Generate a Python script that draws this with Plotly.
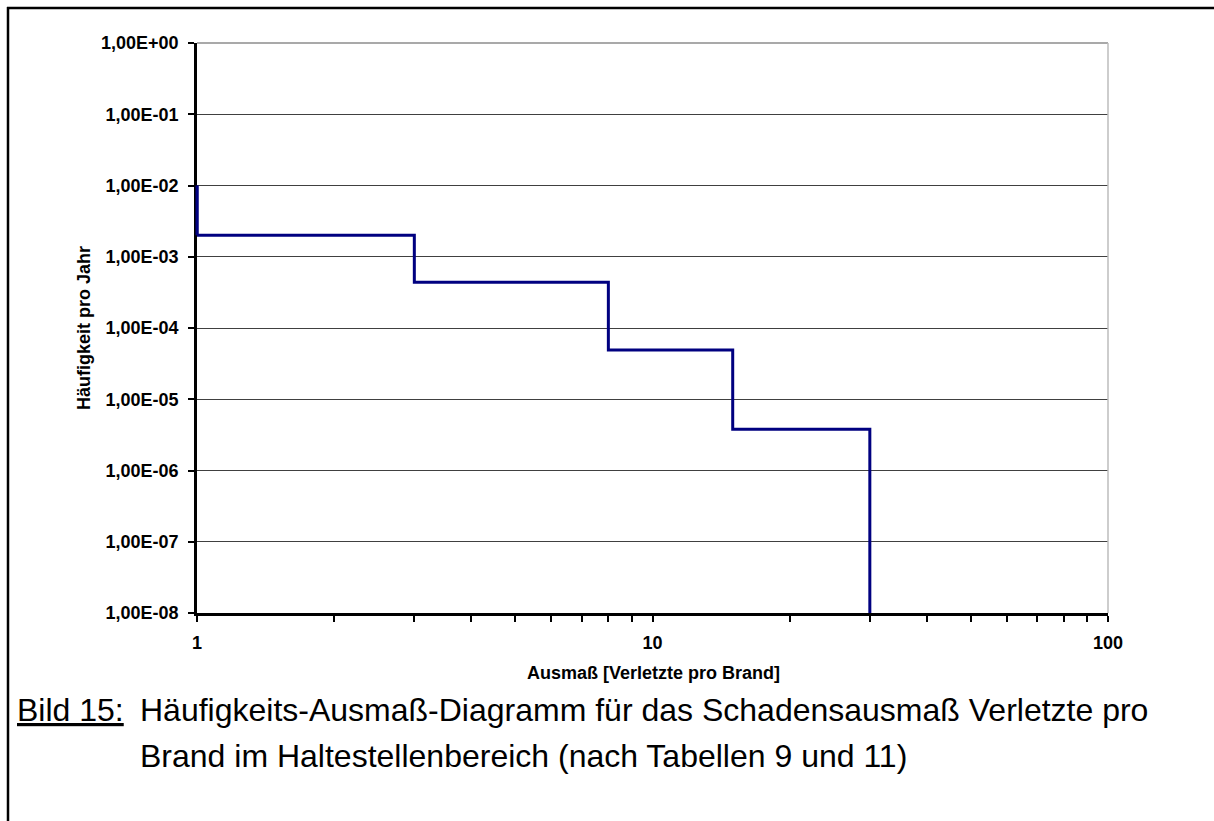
import math
import plotly.graph_objects as go

# Data
damage_x = [1, 1, 3, 8, 15, 30]                    # Ausmaß [Verletzte pro Brand]
freq_y = [1e-2, 2e-3, 4.4e-4, 4.9e-5, 3.8e-6, 1e-8]  # Häufigkeit pro Jahr

y_tickvals = [1e0, 1e-1, 1e-2, 1e-3, 1e-4, 1e-5, 1e-6, 1e-7, 1e-8]
y_ticktext = ["1,00E+00", "1,00E-01", "1,00E-02", "1,00E-03", "1,00E-04",
              "1,00E-05", "1,00E-06", "1,00E-07", "1,00E-08"]
x_tickvals = [1, 2, 3, 4, 5, 6, 7, 8, 9, 10, 20, 30, 40, 50, 60, 70, 80, 90, 100]
x_ticktext = ["1", "", "", "", "", "", "", "", "", "10",
              "", "", "", "", "", "", "", "", "100"]

W, H = 1214, 821
L, R, T, B = 197, 106, 43, 208
PW, PH = W - L - R, H - T - B
Y_RANGE = [-8, 0]
X_RANGE = [0, 2]

def xp(px):
    return (px - L) / PW

def yp(py):
    return (H - B - py) / PH

def y_data_to_paper(v):
    return (math.log10(v) - Y_RANGE[0]) / (Y_RANGE[1] - Y_RANGE[0])

def x_data_to_paper(v):
    return (math.log10(v) - X_RANGE[0]) / (X_RANGE[1] - X_RANGE[0])

FONT = "Liberation Sans, Arial, sans-serif"
NAVY = "#000080"

fig = go.Figure()
fig.add_trace(go.Scatter(
    x=damage_x, y=freq_y, mode="lines", line=dict(color=NAVY, width=3, shape="hv"),
    showlegend=False, hoverinfo="skip"))

fig.update_layout(
    width=W, height=H,
    margin=dict(l=L, r=R, t=T, b=B, pad=0),
    paper_bgcolor="white", plot_bgcolor="white",
    font=dict(family=FONT, color="black"),
    xaxis=dict(type="log", range=X_RANGE, tickvals=x_tickvals, ticktext=x_ticktext,
               showgrid=False, zeroline=False, showline=True, linecolor="black", linewidth=2.5,
               ticks="outside", ticklen=6, tickwidth=2, tickcolor="black",
               ticklabelstandoff=6,
               tickfont=dict(family=FONT, size=18, weight="bold", color="black"),
               layer="below traces"),
    yaxis=dict(type="log", range=Y_RANGE, tickvals=y_tickvals, ticktext=y_ticktext,
               showgrid=True, gridcolor="#404040", gridwidth=1, zeroline=False,
               showline=True, linecolor="black", linewidth=2.5,
               ticks="outside", ticklen=6, tickwidth=2, tickcolor="black",
               ticklabelstandoff=6,
               tickfont=dict(family=FONT, size=18, weight="bold", color="black"),
               layer="below traces"),
)

shapes = [
    # plot-area top and right borders
    dict(type="line", xref="paper", yref="paper", x0=0, x1=1, y0=1, y1=1,
         line=dict(color="#8c8c8c", width=1.5), layer="above"),
    dict(type="line", xref="paper", yref="paper", x0=1, x1=1, y0=0, y1=1,
         line=dict(color="#bdbdbd", width=1.5), layer="above"),
    # first vertical step segment lying on the y axis (drawn unclipped)
    dict(type="line", xref="paper", yref="paper",
         x0=x_data_to_paper(damage_x[0]), x1=x_data_to_paper(damage_x[1]),
         y0=y_data_to_paper(freq_y[0]), y1=y_data_to_paper(freq_y[1]),
         line=dict(color=NAVY, width=3), layer="above"),
    # page frame (top and left)
    dict(type="line", xref="paper", yref="paper", x0=xp(7), x1=xp(1230), y0=yp(8), y1=yp(8),
         line=dict(color="black", width=2.5)),
    dict(type="line", xref="paper", yref="paper", x0=xp(8), x1=xp(8), y0=yp(7), y1=yp(840),
         line=dict(color="black", width=2.5)),
]
fig.update_layout(shapes=shapes)

ann = [
    dict(text="Häufigkeit pro Jahr", x=xp(84), y=yp(328), textangle=-90,
         font=dict(family=FONT, size=18, weight="bold")),
    dict(text="Ausmaß [Verletzte pro Brand]", x=xp(653), y=yp(673),
         font=dict(family=FONT, size=18, weight="bold")),
    dict(text="<u>Bild 15:</u>", x=xp(15), y=yp(710), xanchor="left",
         font=dict(family=FONT, size=32)),
    dict(text="Häufigkeits-Ausmaß-Diagramm für das Schadensausmaß Verletzte pro",
         x=xp(138), y=yp(710), xanchor="left", font=dict(family=FONT, size=32)),
    dict(text="Brand im Haltestellenbereich (nach Tabellen 9 und 11)",
         x=xp(138), y=yp(756), xanchor="left", font=dict(family=FONT, size=32)),
]
for a in ann:
    a.update(xref="paper", yref="paper", showarrow=False)
    a.setdefault("xanchor", "center")
    a.setdefault("yanchor", "middle")
fig.update_layout(annotations=ann)

fig.write_html("out.html", config={"displayModeBar": False},
               post_script="document.body.style.margin='0px';document.body.style.overflow='hidden';")
